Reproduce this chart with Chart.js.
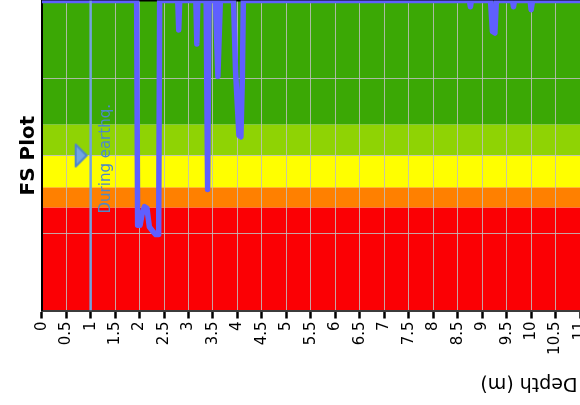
<!DOCTYPE html>
<html>
<head>
<meta charset="utf-8">
<script src="https://cdn.jsdelivr.net/npm/chart.js@4.4.1/dist/chart.umd.min.js"></script>
<style>
  html, body { margin: 0; padding: 0; background: #fff; overflow: hidden; }
  #wrap { position: absolute; left: 0; top: -20px; width: 629px; height: 425px; }
</style>
</head>
<body>
<div id="wrap"><canvas id="fs-chart"></canvas></div>
<script>
// depth (m) against factor of safety; 2 is the capped top value
const depth = [0, 1.94, 1.96, 2.01, 2.05, 2.1, 2.15, 2.2, 2.27, 2.33, 2.39, 2.41,
  2.78, 2.8, 2.82, 3.15, 3.17, 3.19, 3.36, 3.39, 3.42, 3.55, 3.6, 3.65,
  3.92, 3.96, 4.03, 4.07, 4.1, 4.12, 8.74, 8.76, 8.78, 9.17, 9.21, 9.26, 9.29,
  9.62, 9.64, 9.66, 9.98, 10.0, 10.03, 12];
const fs = [2, 2, 0.55, 0.55, 0.62, 0.67, 0.66, 0.54, 0.51, 0.49, 0.49, 2,
  2, 1.81, 2, 2, 1.72, 2, 2, 0.78, 2, 2, 1.51, 2,
  2, 1.55, 1.13, 1.12, 1.5, 2, 2, 1.96, 2, 2, 1.8, 1.79, 2,
  2, 1.96, 2, 2, 1.94, 2, 2];

// FS bands, bottom to top
const bandEdges = [0, 0.665, 0.795, 1.0, 1.2, 2];
const bandColors = ['#fb0004', '#ff8000', '#ffff00', '#8fd304', '#3ba805'];

const xTicks = [0, 0.5, 1, 1.5, 2, 2.5, 3, 3.5, 4, 4.5, 5, 5.5, 6, 6.5, 7, 7.5,
  8, 8.5, 9, 9.5, 10, 10.5, 11, 11.5, 12];
const yTicks = [0, 0.5, 1, 1.5, 2];

const eventDepth = 1;
const eventFs = 1;
const eventLabel = 'During earthq.';

const gridColor = 'rgba(190,190,190,0.85)';

// right-pointing marker, drawn into a small canvas used as the point style
const tri = document.createElement('canvas');
tri.width = 34;
tri.height = 26;
const tctx = tri.getContext('2d');
tctx.beginPath();
tctx.moveTo(2, 2);
tctx.lineTo(13, 13);
tctx.lineTo(2, 24);
tctx.closePath();
tctx.lineJoin = 'round';
tctx.fillStyle = '#72a5e2';
tctx.fill();
tctx.strokeStyle = '#4f86cc';
tctx.lineWidth = 2;
tctx.stroke();

const bandPlugin = {
  id: 'bands',
  beforeDraw(chart) {
    const {ctx, chartArea: a, scales: {y}} = chart;
    ctx.save();
    for (let i = 0; i < bandColors.length; i++) {
      const top = y.getPixelForValue(bandEdges[i + 1]);
      const bot = y.getPixelForValue(bandEdges[i]);
      ctx.fillStyle = bandColors[i];
      ctx.fillRect(a.left, top, a.right - a.left, bot - top);
    }
    ctx.restore();
  },
  beforeDatasetsDraw(chart) {
    const {ctx, chartArea: a} = chart;
    ctx.save();
    ctx.strokeStyle = '#000';
    ctx.lineWidth = 2;
    ctx.beginPath();
    ctx.moveTo(a.left, a.top);
    ctx.lineTo(a.right, a.top);
    ctx.stroke();
    ctx.restore();
  }
};

const notesPlugin = {
  id: 'notes',
  afterDraw(chart) {
    const {ctx, chartArea: a, scales: {x}} = chart;
    ctx.save();
    ctx.translate(x.getPixelForValue(eventDepth) + 19, a.top + 213);
    ctx.rotate(-Math.PI / 2);
    ctx.font = '15px "DejaVu Sans"';
    ctx.fillStyle = '#4d88c9';
    ctx.textAlign = 'left';
    ctx.textBaseline = 'alphabetic';
    ctx.fillText(eventLabel, 0, 0);
    ctx.restore();

    // axis title comes out upside down in the source
    ctx.save();
    ctx.translate(529, a.bottom + 72);
    ctx.rotate(Math.PI);
    ctx.font = '19px "DejaVu Sans"';
    ctx.fillStyle = '#000';
    ctx.textAlign = 'center';
    ctx.textBaseline = 'middle';
    ctx.fillText('Depth (m)', 0, 0);
    ctx.restore();
  }
};

new Chart(document.getElementById('fs-chart'), {
  type: 'line',
  data: {
    datasets: [
      {
        label: 'FS',
        data: depth.map((d, i) => ({x: d, y: fs[i]})),
        borderColor: '#5f5fff',
        borderWidth: 5.5,
        borderJoinStyle: 'round',
        pointRadius: 0,
        tension: 0,
        order: 2
      },
      {
        label: 'event',
        data: [{x: eventDepth, y: yTicks[0]}, {x: eventDepth, y: yTicks[yTicks.length - 1]}],
        borderColor: '#73a2dd',
        borderWidth: 2.5,
        pointRadius: 0,
        order: 1
      },
      {
        label: 'marker',
        data: [{x: eventDepth, y: eventFs}],
        showLine: false,
        pointStyle: tri,
        pointRadius: 10,
        order: 0
      }
    ]
  },
  options: {
    responsive: true,
    maintainAspectRatio: false,
    animation: false,
    events: [],
    layout: {
      padding: {top: 20.5, left: 0, right: 0, bottom: 0},
      autoPadding: false
    },
    plugins: {
      legend: {display: false},
      tooltip: {enabled: false}
    },
    scales: {
      x: {
        type: 'linear',
        min: 0,
        max: 12,
        afterBuildTicks: s => { s.ticks = xTicks.map(v => ({value: v})); },
        afterFit: s => { s.height = 94.5; s.paddingLeft = 0; s.paddingRight = 0; },
        grid: {color: gridColor, lineWidth: 1, tickColor: '#000', tickWidth: 2.5, tickLength: 8},
        border: {color: '#3c3c3c', width: 2},
        ticks: {
          autoSkip: false,
          minRotation: 90,
          maxRotation: 90,
          padding: 3,
          color: '#000',
          font: {family: 'DejaVu Sans', size: 15},
          callback: v => String(v)
        }
      },
      y: {
        min: 0,
        max: 2,
        afterBuildTicks: s => { s.ticks = yTicks.map(v => ({value: v})); },
        afterFit: s => { s.width = 41.7; },
        grid: {color: gridColor, lineWidth: 1, drawTicks: false},
        border: {color: '#000', width: 2},
        ticks: {display: false},
        title: {
          display: true,
          text: 'FS Plot',
          color: '#000',
          font: {family: 'DejaVu Sans', size: 20, weight: 'bold'},
          padding: {top: 16.5, bottom: 2}
        }
      }
    }
  },
  plugins: [bandPlugin, notesPlugin]
});
</script>
</body>
</html>
